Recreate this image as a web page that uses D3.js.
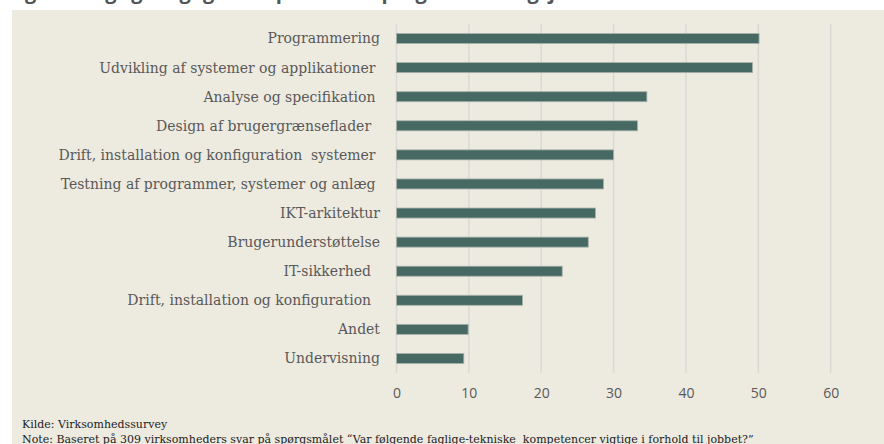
<!DOCTYPE html>
<html><head><meta charset="utf-8">
<script src="https://cdn.jsdelivr.net/npm/d3@7"></script>
<style>
html,body{margin:0;padding:0;background:#fff;}
svg{display:block;}
.cat{white-space:pre;}
</style></head>
<body>
<svg id="chart" width="884" height="444"></svg>
<script>
const categories = [
  "Programmering",
  "Udvikling af systemer og applikationer ",
  "Analyse og specifikation ",
  "Design af brugergrænseflader  ",
  "Drift, installation og konfiguration  systemer ",
  "Testning af programmer, systemer og anlæg ",
  "IKT-arkitektur",
  "Brugerunderstøttelse",
  "IT-sikkerhed  ",
  "Drift, installation og konfiguration  ",
  "Andet",
  "Undervisning"
];
const values = [50.1, 49.2, 34.6, 33.3, 30.0, 28.6, 27.5, 26.5, 22.9, 17.4, 9.9, 9.3];
const ticks = [0, 10, 20, 30, 40, 50, 60];
const title = "Figur 6: Vigtige faglige kompetencer i programmeringsjob";
const source = "Kilde: Virksomhedssurvey";
const note = "Note: Baseret på 309 virksomheders svar på spørgsmålet \u201CVar følgende faglige-tekniske  kompetencer vigtige i forhold til jobbet?\u201D";

const svg = d3.select("#chart");

// title (cut off at top, as in the reference)
svg.append("text").attr("x", 8).attr("y", -1)
  .attr("font-family", "'Open Sans', sans-serif").attr("font-weight", "bold")
  .attr("font-size", 20).attr("fill", "#555").text(title);

// panel background
svg.append("rect").attr("x", 12).attr("y", 10).attr("width", 872).attr("height", 434).attr("fill", "#edeae0");

const x = d3.scaleLinear().domain([0, 60]).range([396.5, 830.7]);
const y = d3.scaleBand().domain(categories).range([24, 373]).paddingInner(0.656).paddingOuter(0.328);

// grid
svg.append("g").selectAll("line").data(ticks).join("line")
  .attr("x1", d => x(d)).attr("x2", d => x(d))
  .attr("y1", 24).attr("y2", 373)
  .attr("stroke", "#d9d9d6").attr("stroke-width", 1.5);

// bars
svg.append("g").selectAll("rect").data(values).join("rect")
  .attr("x", x(0)).attr("y", (d, i) => y(categories[i]))
  .attr("width", d => x(d) - x(0)).attr("height", y.bandwidth())
  .attr("fill", "#466963").attr("stroke", "#a7b1aa").attr("stroke-width", 0.8);

// category labels
svg.append("g").selectAll("text").data(categories).join("text")
  .attr("class", "cat")
  .attr("x", 380).attr("y", d => y(d) + y.bandwidth() / 2)
  .attr("dy", "0.35em").attr("text-anchor", "end")
  .attr("font-family", "'DejaVu Serif', serif").attr("font-size", 14)
  .attr("fill", "#595959").text(d => d);

// x axis tick labels
const ax = svg.append("g").attr("transform", "translate(0,373)")
  .call(d3.axisBottom(x).tickValues(ticks).tickSize(0).tickPadding(15));
ax.select(".domain").remove();
ax.selectAll("text").attr("font-family", "'Open Sans', sans-serif").attr("font-size", 14).attr("fill", "#595959");

// footnotes
svg.append("text").attr("x", 22).attr("y", 428).attr("font-family", "'DejaVu Serif', serif")
  .attr("font-size", 11).attr("fill", "#222").text(source);
svg.append("text").attr("class", "cat").attr("x", 22).attr("y", 443).attr("font-family", "'DejaVu Serif', serif")
  .attr("font-size", 11).attr("fill", "#222").text(note);
</script>
</body></html>
